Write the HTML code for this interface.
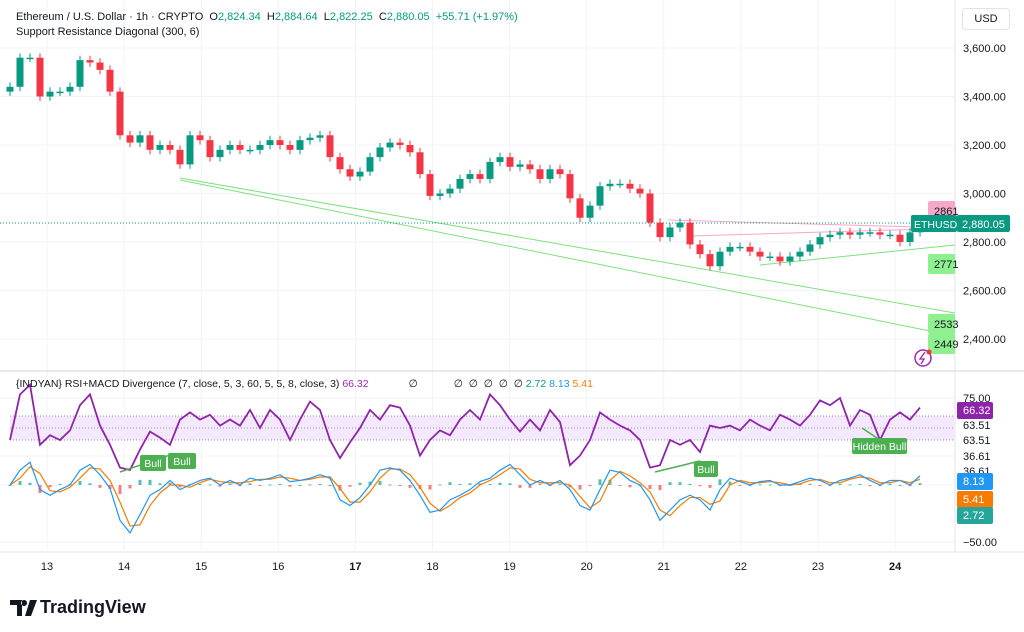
<!DOCTYPE html>
<html><head><meta charset="utf-8"><style>
body{margin:0;background:#fff;font-family:"Liberation Sans",sans-serif;}
#wrap{position:relative;width:1024px;height:632px;overflow:hidden;background:#fff}
.t{position:absolute;font-size:11px;color:#131722;white-space:nowrap}
</style></head><body>
<div id="wrap">
<svg id="svg" width="1024" height="632" style="position:absolute;left:0;top:0"></svg>
<div class="t" style="left:16px;top:11px">Ethereum / U.S. Dollar · 1h · CRYPTO&nbsp; O<span style="color:#089981">2,824.34</span>&nbsp; H<span style="color:#089981">2,884.64</span>&nbsp; L<span style="color:#089981">2,822.25</span>&nbsp; C<span style="color:#089981">2,880.05</span>&nbsp; <span style="color:#089981">+55.71 (+1.97%)</span></div>
<div class="t" style="left:16px;top:26px">Support Resistance Diagonal (300, 6)</div>
<div class="t" style="left:16px;top:378px;font-size:10.5px">{INDYAN} RSI+MACD Divergence (7, close, 5, 3, 60, 5, 5, 8, close, 3) <span style="color:#9c27b0">66.32</span><span style="margin-left:40px">∅</span><span style="margin-left:36px">∅ &nbsp;∅ &nbsp;∅ &nbsp;∅ &nbsp;∅</span> <span style="color:#089981">2.72</span> <span style="color:#2196f3">8.13</span> <span style="color:#f57c00">5.41</span></div>
<div class="t" style="left:962px;top:8px;width:46px;height:20px;border:1px solid #e0e3eb;border-radius:4px;line-height:20px;text-align:center">USD</div>
<div style="position:absolute;left:10px;top:597px;display:flex;align-items:center">
<svg width="28" height="16"><path d="M0 0h12v16h-5v-11h-7z M14 0a3 3 0 1 0 0.1 0z M20 0h7l-6 16h-6z" fill="#131722"/></svg>
<span style="font-size:18px;font-weight:bold;color:#131722;margin-left:2px">TradingView</span></div>
</div>
<script>
const closes=[3440,3560,3560,3400,3420,3420,3440,3550,3540,3510,3420,3240,3210,3240,3180,3200,3180,3120,3240,3220,3150,3180,3200,3180,3180,3200,3220,3200,3180,3220,3230,3240,3150,3100,3070,3090,3150,3190,3210,3200,3170,3080,2990,3000,3020,3060,3080,3060,3130,3150,3110,3120,3100,3060,3100,3080,2980,2900,2950,3030,3040,3040,3020,3000,2880,2820,2860,2880,2790,2750,2700,2760,2780,2780,2760,2740,2740,2720,2740,2760,2790,2820,2830,2840,2830,2840,2840,2830,2830,2800,2840,2880];
const rsi=[40,78,86,36,44,40,48,69,78,52,36,17,15,32,47,42,36,57,63,57,61,52,57,52,65,50,65,57,40,57,72,65,40,25,38,50,65,57,69,67,52,27,40,48,44,57,65,57,78,69,57,47,57,48,65,55,19,27,40,63,57,52,48,40,17,19,40,36,40,30,52,50,52,48,57,52,48,61,57,52,61,73,69,75,52,65,61,40,57,63,57,67];
const macd=[0,13,20,-4,-9,-4,0,13,18,9,-3,-31,-42,-26,-9,-4,4,-4,0,4,6,0,4,0,6,4,6,9,3,4,6,9,6,-13,-18,-11,0,13,15,13,4,-9,-24,-22,-13,-9,-4,3,6,13,18,9,0,4,0,4,-4,-18,-22,-4,13,11,4,0,-13,-31,-22,-13,-9,-13,-22,-4,6,3,0,3,4,0,0,3,6,4,0,4,6,9,4,0,4,4,0,8];
const signal=[0,6,16,10,-5,-6,-2,6,15,14,4,-15,-36,-35,-18,-7,0,0,-2,2,5,3,2,2,3,5,5,7,6,4,5,7,7,-3,-15,-15,-6,6,14,14,9,-2,-16,-23,-18,-11,-7,0,4,9,15,14,5,2,2,2,0,-10,-20,-14,4,12,8,2,-6,-22,-27,-18,-11,-11,-17,-14,0,4,2,2,3,2,0,1,4,5,2,2,5,7,6,2,2,4,2,5];
const priceTicks=[3600,3400,3200,3000,2800,2600,2400];
const dayLabels=["13","14","15","16","17","18","19","20","21","22","23","24"];
const svg=document.getElementById('svg');const NS='http://www.w3.org/2000/svg';
function el(t,a,txt){const e=document.createElementNS(NS,t);for(const k in a)e.setAttribute(k,a[k]);if(txt!==undefined)e.textContent=txt;svg.appendChild(e);return e;}
const xI=i=>10+i*10;
const yP=p=>48+(3600-p)*0.2425;
const yR=v=>398+(75-v)*1.2;
const yM=v=>485-v*1.14;
const xD=i=>47+i*77.1;
priceTicks.forEach(p=>{const g=el('line',{x1:0,x2:955,y1:yP(p),y2:yP(p),stroke:'#f0f3fa'});
const t=el('text',{x:963,y:yP(p)+4,'font-size':11,fill:'#131722','font-family':'Liberation Sans'},p.toLocaleString('en-US',{minimumFractionDigits:2}));});
dayLabels.forEach((d,i)=>{const g=el('line',{x1:xD(i),x2:xD(i),y1:0,y2:550,stroke:'#f0f3fa'});
const t=el('text',{x:xD(i),y:570,'font-size':11,fill:'#131722','text-anchor':'middle','font-weight':(d==='17'||d==='24')?'bold':'normal','font-family':'Liberation Sans'},d);});
[398,456,485,542].forEach(y=>{const g=el('line',{x1:0,x2:955,y1:y,y2:y,stroke:'#f0f3fa'});});
let s=el('line',{x1:0,x2:1024,y1:371,y2:371,stroke:'#d1d4dc'});
s=el('line',{x1:955,x2:955,y1:0,y2:552,stroke:'#e0e3eb'});
s=el('line',{x1:0,x2:1024,y1:552,y2:552,stroke:'#e0e3eb'});
[[180,178,955,313],[180,180,955,336],[760,265,955,245]].forEach(l=>{const e=el('line',{x1:l[0],y1:l[1],x2:l[2],y2:l[3],stroke:'#7ee07e','stroke-width':1});});
[[668,220,955,228],[690,236,925,229]].forEach(l=>{const e=el('line',{x1:l[0],y1:l[1],x2:l[2],y2:l[3],stroke:'#f7a8c8','stroke-width':1});});
s=el('line',{x1:0,x2:955,y1:223,y2:223,stroke:'#089981','stroke-dasharray':'1 2'});
closes.forEach((c,i)=>{const o=i?closes[i-1]:c-20;const up=c>=o;const col=up?'#089981':'#f23645';const x=xI(i);
const w=el('line',{x1:x,x2:x,y1:yP(Math.max(o,c)+18),y2:yP(Math.min(o,c)-18),stroke:col});
const b=el('rect',{x:x-3.5,width:7,y:yP(Math.max(o,c)),height:Math.max(1.5,Math.abs(yP(o)-yP(c))),fill:col});});
[[928,201,'2861','#f7a8c8'],[928,254,'2771','#8ef08e'],[928,314,'2533','#8ef08e'],[928,334,'2449','#8ef08e']].forEach(l=>{const r=el('rect',{x:l[0],y:l[1],width:27,height:20,fill:l[3],rx:2});
const t=el('text',{x:l[0]+6,y:l[1]+14,'font-size':11,fill:'#131722','font-family':'Liberation Sans'},l[2]);});
s=el('rect',{x:911,y:215,width:46,height:17,fill:'#089981',rx:2});
s=el('text',{x:914,y:228,'font-size':10.5,fill:'#fff','font-family':'Liberation Sans'},'ETHUSD');
s=el('rect',{x:957,y:215,width:53,height:17,fill:'#089981',rx:2});
s=el('text',{x:962,y:228,'font-size':11,fill:'#fff','font-family':'Liberation Sans'},'2,880.05');
s=el('circle',{cx:923,cy:358,r:8,fill:'none',stroke:'#9c27b0','stroke-width':1.5});
s=el('path',{d:'M925 352 L920 359 L924 359 L921 364',fill:'none',stroke:'#9c27b0','stroke-width':1.3});
s=el('circle',{cx:929,cy:352,r:2.5,fill:'#f23645'});
s=el('rect',{x:10,y:416,width:945,height:24,fill:'#f3e8fc'});
[416,428,440].forEach(y=>{const e=el('line',{x1:10,x2:955,y1:y,y2:y,stroke:'#9598a1','stroke-dasharray':'1 2'});});
macd.forEach((v,i)=>{const h=(v-signal[i])*0.5;const r=el('rect',{x:xI(i)-1.5,width:3,y:Math.min(yM(0),yM(h)),height:Math.max(1,Math.abs(yM(h)-yM(0))),fill:h>=0?'#26a69a':'#ef5350',opacity:0.75});});
s=el('polyline',{points:signal.map((v,i)=>xI(i)+','+yM(v)).join(' '),fill:'none',stroke:'#f57c00','stroke-width':1.2});
s=el('polyline',{points:macd.map((v,i)=>xI(i)+','+yM(v)).join(' '),fill:'none',stroke:'#2196f3','stroke-width':1.2});
s=el('polyline',{points:rsi.map((v,i)=>xI(i)+','+yR(v)).join(' '),fill:'none',stroke:'#8e24aa','stroke-width':1.8});
[[120,472,170,455],[655,472,700,461],[862,428,880,440]].forEach(l=>{const e=el('line',{x1:l[0],y1:l[1],x2:l[2],y2:l[3],stroke:'#4caf50','stroke-width':1.5});});
[[140,455,26,'Bull'],[168,453,28,'Bull'],[694,461,24,'Bull'],[852,438,55,'Hidden Bull']].forEach(l=>{const r=el('rect',{x:l[0],y:l[1],width:l[2],height:16,fill:'#4caf50',rx:2});
const t=el('text',{x:l[0]+l[2]/2,y:l[1]+12,'font-size':10.5,fill:'#fff','text-anchor':'middle','font-family':'Liberation Sans'},l[3]);});
[[398,'75.00'],[425,'63.51'],[440,'63.51'],[456,'36.61'],[471,'36.61'],[542,'−50.00']].forEach(l=>{const t=el('text',{x:963,y:l[0]+4,'font-size':11,fill:'#131722','font-family':'Liberation Sans'},l[1]);});
[[410,'66.32','#8e24aa'],[481,'8.13','#2196f3'],[499,'5.41','#f57c00'],[515,'2.72','#26a69a']].forEach(l=>{const r=el('rect',{x:957,y:l[0]-8,width:36,height:17,fill:l[2],rx:2});
const t=el('text',{x:963,y:l[0]+4,'font-size':11,fill:'#fff','font-family':'Liberation Sans'},l[1]);});
</script>
</body></html>
